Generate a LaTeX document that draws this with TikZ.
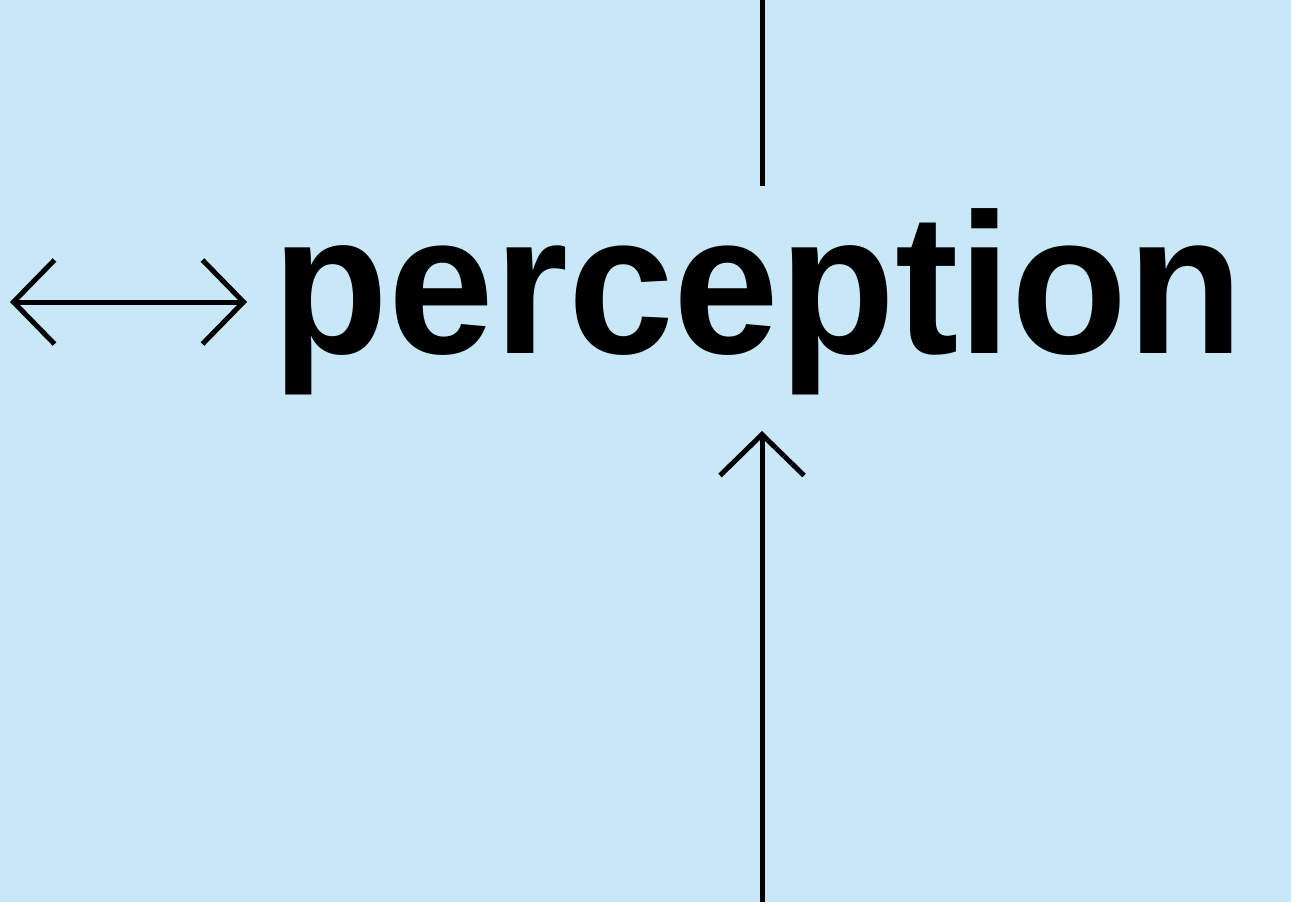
\documentclass[tikz,border=0pt]{standalone}
\usepackage{fontspec}
\setmainfont{Liberation Sans}
\usetikzlibrary{arrows.meta}
\definecolor{bgblue}{RGB}{200,232,248}
\tikzset{
  conn/.style={line width=5pt, draw=black},
  barb/.style={Straight Barb[length=41pt,width=84pt]},
  label/.style={font=\fontsize{200pt}{200pt}\selectfont\bfseries, inner sep=0pt, anchor=base, xscale=0.95}
}
\begin{document}
\begin{tikzpicture}[x=1pt,y=-1pt]
\useasboundingbox (0,0) rectangle (1307,906);
\fill[bgblue] (0,0) rectangle (1291,902);
\node[label] (perc) at (758,353) {perception};
\coordinate (topend) at (762,0);
\coordinate (topstop) at (762,186);
\coordinate (botend) at (762,902);
\coordinate (bottip) at (762,431);
\coordinate (lefttip) at (10,302);
\coordinate (righttip) at (247,302);
\draw[conn] (topend) -- (topstop);
\draw[conn, -{Straight Barb[length=41pt,width=84pt]}] (botend) -- (bottip);
\draw[conn, {Straight Barb[length=41pt,width=84pt]}-{Straight Barb[length=41pt,width=84pt]}] (lefttip) -- (righttip);
\end{tikzpicture}
\end{document}
